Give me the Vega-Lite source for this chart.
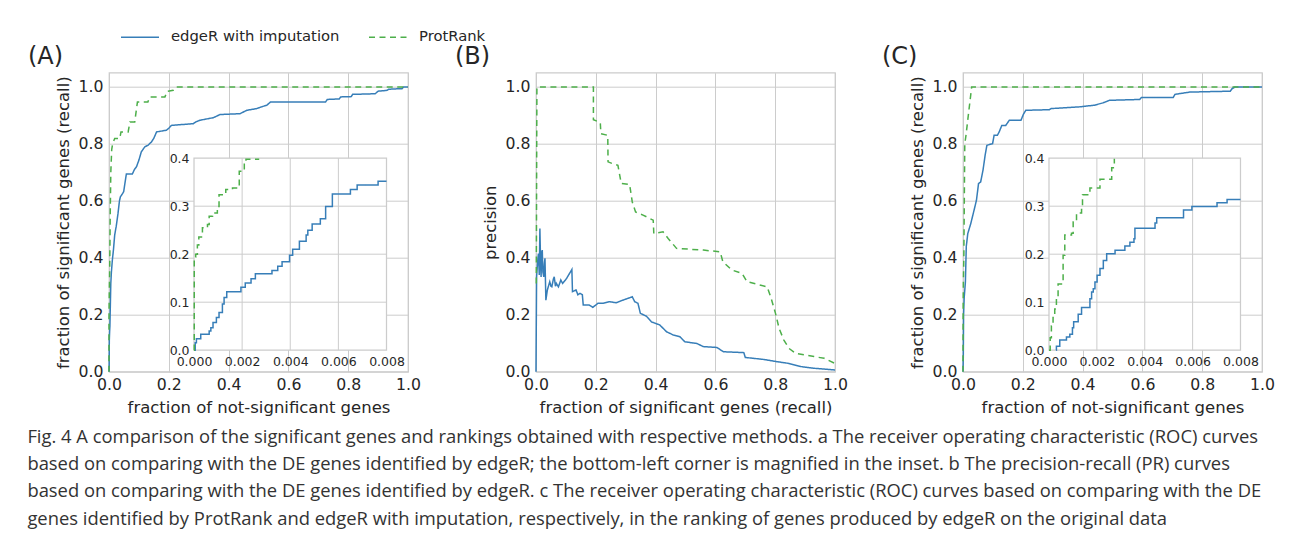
{
  "$schema": "https://vega.github.io/schema/vega-lite/v6.json",
  "background": "white",
  "padding": {"left": 27, "top": 16.7, "right": 5, "bottom": 5},
  "config": {
    "view": {"stroke": "#cccccc", "strokeWidth": 1.25},
    "font": "DejaVu Sans",
    "axis": {"domain": false, "ticks": false, "grid": true, "gridColor": "#cccccc", "gridWidth": 1, "labelFont": "DejaVu Sans", "labelFontSize": 15.7, "labelColor": "#262626", "titleFont": "DejaVu Sans", "titleFontSize": 16.5, "titleFontWeight": "normal", "titleColor": "#262626", "labelPadding": 6, "titlePadding": 7, "labelFlush": false, "labelOverlap": false},
    "legend": {"orient": "none", "legendX": 11, "legendY": -55.6, "direction": "horizontal", "symbolType": "stroke", "symbolSize": 1444, "symbolStrokeWidth": 1.5, "labelFont": "DejaVu Sans", "labelFontSize": 14.8, "labelColor": "#262626", "labelOffset": 11, "labelLimit": 400, "columnPadding": 26, "padding": 0},
    "title": {"font": "DejaVu Sans", "fontSize": 24, "fontWeight": "normal", "color": "#262626", "anchor": "start", "frame": "group", "dx": -81, "offset": 3.5, "baseline": "alphabetic"}
  },
  "title": {
    "text": [
      "Fig. 4 A comparison of the significant genes and rankings obtained with respective methods. a The receiver operating characteristic (ROC) curves",
      "based on comparing with the DE genes identified by edgeR; the bottom-left corner is magnified in the inset. b The precision-recall (PR) curves",
      "based on comparing with the DE genes identified by edgeR. c The receiver operating characteristic (ROC) curves based on comparing with the DE",
      "genes identified by ProtRank and edgeR with imputation, respectively, in the ranking of genes produced by edgeR on the original data"
    ],
    "orient": "bottom", "anchor": "start", "frame": "bounds", "dx": 0, "offset": 11, "baseline": "top", "lineHeight": 27.5,
    "font": "Open Sans", "fontSize": 18.4, "fontWeight": "normal", "color": "#333333"
  },
  "datasets": {
    "A_main": [
      {"series":"edgeR with imputation","x":0,"y":0},{"series":"edgeR with imputation","x":0.0005,"y":0.02},{"series":"edgeR with imputation","x":0.001,"y":0.11},{"series":"edgeR with imputation","x":0.002,"y":0.14},{"series":"edgeR with imputation","x":0.003,"y":0.16},{"series":"edgeR with imputation","x":0.004,"y":0.21},{"series":"edgeR with imputation","x":0.005,"y":0.26},{"series":"edgeR with imputation","x":0.006,"y":0.31},{"series":"edgeR with imputation","x":0.008,"y":0.35},{"series":"edgeR with imputation","x":0.011,"y":0.39},{"series":"edgeR with imputation","x":0.015,"y":0.43},{"series":"edgeR with imputation","x":0.019,"y":0.48},{"series":"edgeR with imputation","x":0.024,"y":0.51},{"series":"edgeR with imputation","x":0.03,"y":0.555},{"series":"edgeR with imputation","x":0.035,"y":0.6},{"series":"edgeR with imputation","x":0.038,"y":0.614},{"series":"edgeR with imputation","x":0.045,"y":0.625},{"series":"edgeR with imputation","x":0.049,"y":0.632},{"series":"edgeR with imputation","x":0.053,"y":0.66},{"series":"edgeR with imputation","x":0.058,"y":0.694},{"series":"edgeR with imputation","x":0.078,"y":0.694},{"series":"edgeR with imputation","x":0.085,"y":0.71},{"series":"edgeR with imputation","x":0.092,"y":0.72},{"series":"edgeR with imputation","x":0.1,"y":0.743},{"series":"edgeR with imputation","x":0.108,"y":0.772},{"series":"edgeR with imputation","x":0.12,"y":0.79},{"series":"edgeR with imputation","x":0.13,"y":0.795},{"series":"edgeR with imputation","x":0.142,"y":0.807},{"series":"edgeR with imputation","x":0.15,"y":0.82},{"series":"edgeR with imputation","x":0.159,"y":0.842},{"series":"edgeR with imputation","x":0.192,"y":0.848},{"series":"edgeR with imputation","x":0.2,"y":0.855},{"series":"edgeR with imputation","x":0.209,"y":0.865},{"series":"edgeR with imputation","x":0.282,"y":0.871},{"series":"edgeR with imputation","x":0.29,"y":0.877},{"series":"edgeR with imputation","x":0.304,"y":0.883},{"series":"edgeR with imputation","x":0.349,"y":0.892},{"series":"edgeR with imputation","x":0.371,"y":0.903},{"series":"edgeR with imputation","x":0.438,"y":0.906},{"series":"edgeR with imputation","x":0.461,"y":0.918},{"series":"edgeR with imputation","x":0.494,"y":0.924},{"series":"edgeR with imputation","x":0.51,"y":0.93},{"series":"edgeR with imputation","x":0.528,"y":0.936},{"series":"edgeR with imputation","x":0.54,"y":0.947},{"series":"edgeR with imputation","x":0.724,"y":0.947},{"series":"edgeR with imputation","x":0.73,"y":0.956},{"series":"edgeR with imputation","x":0.77,"y":0.958},{"series":"edgeR with imputation","x":0.775,"y":0.965},{"series":"edgeR with imputation","x":0.81,"y":0.966},{"series":"edgeR with imputation","x":0.815,"y":0.974},{"series":"edgeR with imputation","x":0.89,"y":0.976},{"series":"edgeR with imputation","x":0.9,"y":0.985},{"series":"edgeR with imputation","x":0.93,"y":0.988},{"series":"edgeR with imputation","x":0.935,"y":0.992},{"series":"edgeR with imputation","x":0.98,"y":0.994},{"series":"edgeR with imputation","x":0.985,"y":1.0},{"series":"edgeR with imputation","x":1.0,"y":1.0},
      {"series":"ProtRank","x":0,"y":0},{"series":"ProtRank","x":0,"y":0.19},{"series":"ProtRank","x":0.0005,"y":0.24},{"series":"ProtRank","x":0.001,"y":0.28},{"series":"ProtRank","x":0.002,"y":0.34},{"series":"ProtRank","x":0.0027,"y":0.4},{"series":"ProtRank","x":0.004,"y":0.55},{"series":"ProtRank","x":0.006,"y":0.7},{"series":"ProtRank","x":0.009,"y":0.78},{"series":"ProtRank","x":0.012,"y":0.8},{"series":"ProtRank","x":0.019,"y":0.819},{"series":"ProtRank","x":0.036,"y":0.819},{"series":"ProtRank","x":0.04,"y":0.842},{"series":"ProtRank","x":0.064,"y":0.842},{"series":"ProtRank","x":0.07,"y":0.877},{"series":"ProtRank","x":0.086,"y":0.877},{"series":"ProtRank","x":0.095,"y":0.947},{"series":"ProtRank","x":0.13,"y":0.947},{"series":"ProtRank","x":0.136,"y":0.965},{"series":"ProtRank","x":0.187,"y":0.965},{"series":"ProtRank","x":0.195,"y":0.985},{"series":"ProtRank","x":0.215,"y":0.988},{"series":"ProtRank","x":0.225,"y":1.0},{"series":"ProtRank","x":1.0,"y":1.0}
    ],
    "A_inset": [
      {"series":"edgeR with imputation","x":0.00004,"y":0},{"series":"edgeR with imputation","x":0.00005,"y":0.0154},{"series":"edgeR with imputation","x":0.0001,"y":0.024},{"series":"edgeR with imputation","x":0.00028,"y":0.033},{"series":"edgeR with imputation","x":0.00063,"y":0.04},{"series":"edgeR with imputation","x":0.0007,"y":0.047},{"series":"edgeR with imputation","x":0.00079,"y":0.0575},{"series":"edgeR with imputation","x":0.00093,"y":0.068},{"series":"edgeR with imputation","x":0.00104,"y":0.0786},{"series":"edgeR with imputation","x":0.00118,"y":0.096},{"series":"edgeR with imputation","x":0.00125,"y":0.11},{"series":"edgeR with imputation","x":0.00136,"y":0.122},{"series":"edgeR with imputation","x":0.00195,"y":0.131},{"series":"edgeR with imputation","x":0.00213,"y":0.14},{"series":"edgeR with imputation","x":0.00237,"y":0.149},{"series":"edgeR with imputation","x":0.00255,"y":0.159},{"series":"edgeR with imputation","x":0.00324,"y":0.166},{"series":"edgeR with imputation","x":0.00348,"y":0.175},{"series":"edgeR with imputation","x":0.00366,"y":0.184},{"series":"edgeR with imputation","x":0.00397,"y":0.198},{"series":"edgeR with imputation","x":0.0041,"y":0.2105},{"series":"edgeR with imputation","x":0.00438,"y":0.227},{"series":"edgeR with imputation","x":0.00466,"y":0.24},{"series":"edgeR with imputation","x":0.00473,"y":0.25},{"series":"edgeR with imputation","x":0.00491,"y":0.263},{"series":"edgeR with imputation","x":0.00525,"y":0.274},{"series":"edgeR with imputation","x":0.00547,"y":0.2996},{"series":"edgeR with imputation","x":0.00575,"y":0.3256},{"series":"edgeR with imputation","x":0.0065,"y":0.335},{"series":"edgeR with imputation","x":0.00678,"y":0.344},{"series":"edgeR with imputation","x":0.00765,"y":0.352},{"series":"edgeR with imputation","x":0.008,"y":0.352},
      {"series":"ProtRank","x":0,"y":0},{"series":"ProtRank","x":0.00001,"y":0.194},{"series":"ProtRank","x":0.00007,"y":0.2},{"series":"ProtRank","x":0.00014,"y":0.219},{"series":"ProtRank","x":0.0002,"y":0.236},{"series":"ProtRank","x":0.00035,"y":0.255},{"series":"ProtRank","x":0.00056,"y":0.262},{"series":"ProtRank","x":0.00063,"y":0.279},{"series":"ProtRank","x":0.00077,"y":0.286},{"series":"ProtRank","x":0.00097,"y":0.2996},{"series":"ProtRank","x":0.00104,"y":0.324},{"series":"ProtRank","x":0.00132,"y":0.335},{"series":"ProtRank","x":0.0016,"y":0.338},{"series":"ProtRank","x":0.00188,"y":0.373},{"series":"ProtRank","x":0.00209,"y":0.391},{"series":"ProtRank","x":0.00216,"y":0.398},{"series":"ProtRank","x":0.00271,"y":0.398}
    ],
    "B": [
      {"series":"edgeR with imputation","x":0,"y":0},{"series":"edgeR with imputation","x":0.002,"y":0.333},{"series":"edgeR with imputation","x":0.005,"y":0.38},{"series":"edgeR with imputation","x":0.008,"y":0.415},{"series":"edgeR with imputation","x":0.011,"y":0.34},{"series":"edgeR with imputation","x":0.013,"y":0.503},{"series":"edgeR with imputation","x":0.015,"y":0.4},{"series":"edgeR with imputation","x":0.017,"y":0.333},{"series":"edgeR with imputation","x":0.019,"y":0.42},{"series":"edgeR with imputation","x":0.021,"y":0.427},{"series":"edgeR with imputation","x":0.023,"y":0.35},{"series":"edgeR with imputation","x":0.026,"y":0.333},{"series":"edgeR with imputation","x":0.028,"y":0.38},{"series":"edgeR with imputation","x":0.03,"y":0.398},{"series":"edgeR with imputation","x":0.033,"y":0.251},{"series":"edgeR with imputation","x":0.038,"y":0.287},{"series":"edgeR with imputation","x":0.046,"y":0.316},{"series":"edgeR with imputation","x":0.05,"y":0.3},{"series":"edgeR with imputation","x":0.053,"y":0.298},{"series":"edgeR with imputation","x":0.058,"y":0.325},{"series":"edgeR with imputation","x":0.061,"y":0.333},{"series":"edgeR with imputation","x":0.065,"y":0.3},{"series":"edgeR with imputation","x":0.068,"y":0.31},{"series":"edgeR with imputation","x":0.075,"y":0.298},{"series":"edgeR with imputation","x":0.083,"y":0.322},{"series":"edgeR with imputation","x":0.089,"y":0.31},{"series":"edgeR with imputation","x":0.102,"y":0.327},{"series":"edgeR with imputation","x":0.12,"y":0.359},{"series":"edgeR with imputation","x":0.122,"y":0.281},{"series":"edgeR with imputation","x":0.134,"y":0.287},{"series":"edgeR with imputation","x":0.14,"y":0.27},{"series":"edgeR with imputation","x":0.147,"y":0.275},{"series":"edgeR with imputation","x":0.155,"y":0.27},{"series":"edgeR with imputation","x":0.158,"y":0.234},{"series":"edgeR with imputation","x":0.178,"y":0.234},{"series":"edgeR with imputation","x":0.19,"y":0.226},{"series":"edgeR with imputation","x":0.207,"y":0.24},{"series":"edgeR with imputation","x":0.223,"y":0.24},{"series":"edgeR with imputation","x":0.246,"y":0.246},{"series":"edgeR with imputation","x":0.268,"y":0.242},{"series":"edgeR with imputation","x":0.29,"y":0.251},{"series":"edgeR with imputation","x":0.322,"y":0.263},{"series":"edgeR with imputation","x":0.33,"y":0.246},{"series":"edgeR with imputation","x":0.341,"y":0.24},{"series":"edgeR with imputation","x":0.349,"y":0.205},{"series":"edgeR with imputation","x":0.369,"y":0.195},{"series":"edgeR with imputation","x":0.386,"y":0.175},{"series":"edgeR with imputation","x":0.414,"y":0.164},{"series":"edgeR with imputation","x":0.437,"y":0.14},{"series":"edgeR with imputation","x":0.459,"y":0.129},{"series":"edgeR with imputation","x":0.481,"y":0.123},{"series":"edgeR with imputation","x":0.498,"y":0.105},{"series":"edgeR with imputation","x":0.538,"y":0.099},{"series":"edgeR with imputation","x":0.56,"y":0.088},{"series":"edgeR with imputation","x":0.605,"y":0.085},{"series":"edgeR with imputation","x":0.627,"y":0.07},{"series":"edgeR with imputation","x":0.695,"y":0.067},{"series":"edgeR with imputation","x":0.7,"y":0.05},{"series":"edgeR with imputation","x":0.762,"y":0.043},{"series":"edgeR with imputation","x":0.807,"y":0.035},{"series":"edgeR with imputation","x":0.846,"y":0.029},{"series":"edgeR with imputation","x":0.886,"y":0.018},{"series":"edgeR with imputation","x":0.93,"y":0.012},{"series":"edgeR with imputation","x":1.0,"y":0.006},
      {"series":"ProtRank","x":0.001,"y":0.31},{"series":"ProtRank","x":0.003,"y":1.0},{"series":"ProtRank","x":0.192,"y":1.0},{"series":"ProtRank","x":0.192,"y":0.885},{"series":"ProtRank","x":0.215,"y":0.875},{"series":"ProtRank","x":0.217,"y":0.836},{"series":"ProtRank","x":0.24,"y":0.83},{"series":"ProtRank","x":0.241,"y":0.737},{"series":"ProtRank","x":0.255,"y":0.731},{"series":"ProtRank","x":0.274,"y":0.725},{"series":"ProtRank","x":0.285,"y":0.661},{"series":"ProtRank","x":0.313,"y":0.658},{"series":"ProtRank","x":0.322,"y":0.596},{"series":"ProtRank","x":0.333,"y":0.561},{"series":"ProtRank","x":0.358,"y":0.55},{"series":"ProtRank","x":0.392,"y":0.532},{"series":"ProtRank","x":0.394,"y":0.485},{"series":"ProtRank","x":0.425,"y":0.491},{"series":"ProtRank","x":0.442,"y":0.468},{"series":"ProtRank","x":0.47,"y":0.433},{"series":"ProtRank","x":0.56,"y":0.427},{"series":"ProtRank","x":0.616,"y":0.421},{"series":"ProtRank","x":0.625,"y":0.386},{"series":"ProtRank","x":0.655,"y":0.357},{"series":"ProtRank","x":0.689,"y":0.345},{"series":"ProtRank","x":0.706,"y":0.316},{"series":"ProtRank","x":0.773,"y":0.298},{"series":"ProtRank","x":0.785,"y":0.263},{"series":"ProtRank","x":0.801,"y":0.205},{"series":"ProtRank","x":0.813,"y":0.152},{"series":"ProtRank","x":0.829,"y":0.111},{"series":"ProtRank","x":0.846,"y":0.082},{"series":"ProtRank","x":0.869,"y":0.064},{"series":"ProtRank","x":0.93,"y":0.053},{"series":"ProtRank","x":0.964,"y":0.047},{"series":"ProtRank","x":1.0,"y":0.029}
    ],
    "C_main": [
      {"series":"edgeR with imputation","x":0,"y":0},{"series":"edgeR with imputation","x":0.001,"y":0.05},{"series":"edgeR with imputation","x":0.002,"y":0.2},{"series":"edgeR with imputation","x":0.004,"y":0.26},{"series":"edgeR with imputation","x":0.008,"y":0.314},{"series":"edgeR with imputation","x":0.011,"y":0.44},{"series":"edgeR with imputation","x":0.016,"y":0.485},{"series":"edgeR with imputation","x":0.026,"y":0.52},{"series":"edgeR with imputation","x":0.037,"y":0.567},{"series":"edgeR with imputation","x":0.045,"y":0.602},{"series":"edgeR with imputation","x":0.052,"y":0.661},{"series":"edgeR with imputation","x":0.059,"y":0.666},{"series":"edgeR with imputation","x":0.067,"y":0.708},{"series":"edgeR with imputation","x":0.074,"y":0.76},{"series":"edgeR with imputation","x":0.08,"y":0.795},{"series":"edgeR with imputation","x":0.099,"y":0.801},{"series":"edgeR with imputation","x":0.104,"y":0.83},{"series":"edgeR with imputation","x":0.115,"y":0.83},{"series":"edgeR with imputation","x":0.121,"y":0.842},{"series":"edgeR with imputation","x":0.13,"y":0.865},{"series":"edgeR with imputation","x":0.143,"y":0.865},{"series":"edgeR with imputation","x":0.155,"y":0.883},{"series":"edgeR with imputation","x":0.194,"y":0.883},{"series":"edgeR with imputation","x":0.202,"y":0.904},{"series":"edgeR with imputation","x":0.21,"y":0.918},{"series":"edgeR with imputation","x":0.289,"y":0.92},{"series":"edgeR with imputation","x":0.295,"y":0.924},{"series":"edgeR with imputation","x":0.39,"y":0.93},{"series":"edgeR with imputation","x":0.44,"y":0.936},{"series":"edgeR with imputation","x":0.468,"y":0.944},{"series":"edgeR with imputation","x":0.49,"y":0.953},{"series":"edgeR with imputation","x":0.591,"y":0.956},{"series":"edgeR with imputation","x":0.597,"y":0.963},{"series":"edgeR with imputation","x":0.703,"y":0.963},{"series":"edgeR with imputation","x":0.709,"y":0.974},{"series":"edgeR with imputation","x":0.759,"y":0.982},{"series":"edgeR with imputation","x":0.894,"y":0.985},{"series":"edgeR with imputation","x":0.9,"y":0.994},{"series":"edgeR with imputation","x":0.91,"y":1.0},{"series":"edgeR with imputation","x":1.0,"y":1.0},
      {"series":"ProtRank","x":0,"y":0},{"series":"ProtRank","x":0.0003,"y":0.11},{"series":"ProtRank","x":0.0007,"y":0.24},{"series":"ProtRank","x":0.0014,"y":0.32},{"series":"ProtRank","x":0.0028,"y":0.4},{"series":"ProtRank","x":0.004,"y":0.55},{"series":"ProtRank","x":0.006,"y":0.8},{"series":"ProtRank","x":0.01,"y":0.83},{"series":"ProtRank","x":0.02,"y":0.92},{"series":"ProtRank","x":0.029,"y":1.0},{"series":"ProtRank","x":1.0,"y":1.0}
    ],
    "C_inset": [
      {"series":"edgeR with imputation","x":0.0003,"y":0},{"series":"edgeR with imputation","x":0.00031,"y":0.0084},{"series":"edgeR with imputation","x":0.00045,"y":0.021},{"series":"edgeR with imputation","x":0.00073,"y":0.0274},{"series":"edgeR with imputation","x":0.00087,"y":0.033},{"series":"edgeR with imputation","x":0.00098,"y":0.047},{"series":"edgeR with imputation","x":0.00103,"y":0.059},{"series":"edgeR with imputation","x":0.00122,"y":0.075},{"series":"edgeR with imputation","x":0.00136,"y":0.089},{"series":"edgeR with imputation","x":0.00171,"y":0.107},{"series":"edgeR with imputation","x":0.00178,"y":0.121},{"series":"edgeR with imputation","x":0.00185,"y":0.128},{"series":"edgeR with imputation","x":0.00192,"y":0.142},{"series":"edgeR with imputation","x":0.00201,"y":0.156},{"series":"edgeR with imputation","x":0.00213,"y":0.17},{"series":"edgeR with imputation","x":0.00227,"y":0.187},{"series":"edgeR with imputation","x":0.00241,"y":0.201},{"series":"edgeR with imputation","x":0.00276,"y":0.208},{"series":"edgeR with imputation","x":0.00317,"y":0.217},{"series":"edgeR with imputation","x":0.00338,"y":0.225},{"series":"edgeR with imputation","x":0.00355,"y":0.232},{"series":"edgeR with imputation","x":0.00359,"y":0.254},{"series":"edgeR with imputation","x":0.00443,"y":0.265},{"series":"edgeR with imputation","x":0.0045,"y":0.276},{"series":"edgeR with imputation","x":0.00562,"y":0.292},{"series":"edgeR with imputation","x":0.00597,"y":0.2996},{"series":"edgeR with imputation","x":0.00702,"y":0.307},{"series":"edgeR with imputation","x":0.00744,"y":0.314},{"series":"edgeR with imputation","x":0.008,"y":0.314},
      {"series":"ProtRank","x":0,"y":0},{"series":"ProtRank","x":0.00005,"y":0.026},{"series":"ProtRank","x":0.0001,"y":0.0505},{"series":"ProtRank","x":0.00017,"y":0.068},{"series":"ProtRank","x":0.00024,"y":0.0856},{"series":"ProtRank","x":0.00031,"y":0.11},{"series":"ProtRank","x":0.00038,"y":0.138},{"series":"ProtRank","x":0.00052,"y":0.142},{"series":"ProtRank","x":0.00059,"y":0.198},{"series":"ProtRank","x":0.00066,"y":0.24},{"series":"ProtRank","x":0.00094,"y":0.2435},{"series":"ProtRank","x":0.00101,"y":0.267},{"series":"ProtRank","x":0.00115,"y":0.286},{"series":"ProtRank","x":0.00136,"y":0.293},{"series":"ProtRank","x":0.0014,"y":0.324},{"series":"ProtRank","x":0.00171,"y":0.338},{"series":"ProtRank","x":0.00213,"y":0.356},{"series":"ProtRank","x":0.00262,"y":0.38},{"series":"ProtRank","x":0.00273,"y":0.399}
    ],
    "inset_gx": [{"v":0.002},{"v":0.004},{"v":0.006}],
    "inset_gy": [{"v":0.1},{"v":0.2},{"v":0.3}]
  },
  "bounds": "flush",
  "spacing": 128,
  "hconcat": [
    {
      "width": 299, "height": 299,
      "title": {"text": "(A)"},
      "resolve": {"scale": {"x": "independent", "y": "independent"}, "axis": {"x": "independent", "y": "independent"}},
      "layer": [
        {
          "data": {"name": "A_main"},
          "mark": {"type": "line", "strokeWidth": 1.5},
          "encoding": {
            "x": {"field": "x", "type": "quantitative", "scale": {"domain": [0, 1], "nice": false}, "axis": {"values": [0, 0.2, 0.4, 0.6, 0.8, 1], "format": ".1f", "title": "fraction of not-significant genes"}},
            "y": {"field": "y", "type": "quantitative", "scale": {"domain": [0, 1.05], "nice": false}, "axis": {"values": [0, 0.2, 0.4, 0.6, 0.8, 1], "format": ".1f", "title": "fraction of significant genes (recall)"}},
            "color": {"field": "series", "type": "nominal", "scale": {"domain": ["edgeR with imputation", "ProtRank"], "range": ["#377eb8", "#4daf4a"]}, "legend": {"title": null}},
            "strokeDash": {"field": "series", "type": "nominal", "scale": {"domain": ["edgeR with imputation", "ProtRank"], "range": [[1, 0], [6, 4.5]]}, "legend": {"title": null}},
            "order": {"value": null}
          }
        },
        {
          "layer": [
            {
              "data": {"values": [{"box": "inset"}]},
              "mark": {"type": "rect", "fill": "white", "stroke": "#cccccc", "strokeWidth": 1.25},
              "encoding": {
                "x": {"datum": 0, "type": "quantitative", "title": null, "scale": {"domain": [0, 0.008], "range": [85, 277.5], "nice": false, "zero": false}, "axis": {"orient": "bottom", "offset": -21.5, "values": [0, 0.002, 0.004, 0.006, 0.008], "format": ".3f", "grid": false, "labelFontSize": 12.5, "labelPadding": 5, "title": null}},
                "x2": {"datum": 0.008},
                "y": {"datum": 0, "type": "quantitative", "title": null, "scale": {"domain": [0, 0.4], "range": [277.5, 85.5], "nice": false, "zero": false}, "axis": {"orient": "left", "offset": -85, "values": [0, 0.1, 0.2, 0.3, 0.4], "format": ".1f", "grid": false, "labelFontSize": 12.5, "labelPadding": 5, "title": null}},
                "y2": {"datum": 0.4}
              }
            },
            {
              "data": {"name": "inset_gx"},
              "mark": {"type": "rule", "color": "#cccccc", "strokeWidth": 1},
              "encoding": {"x": {"field": "v", "type": "quantitative", "title": null}, "y": {"datum": 0, "type": "quantitative", "title": null}, "y2": {"datum": 0.4}}
            },
            {
              "data": {"name": "inset_gy"},
              "mark": {"type": "rule", "color": "#cccccc", "strokeWidth": 1},
              "encoding": {"y": {"field": "v", "type": "quantitative", "title": null}, "x": {"datum": 0, "type": "quantitative", "title": null}, "x2": {"datum": 0.008}}
            },
            {
              "data": {"name": "A_inset"},
              "mark": {"type": "line", "strokeWidth": 1.5, "interpolate": "step-after"},
              "encoding": {
                "x": {"field": "x", "type": "quantitative", "title": null},
                "y": {"field": "y", "type": "quantitative", "title": null},
                "color": {"field": "series", "type": "nominal", "legend": {"title": null}},
                "strokeDash": {"field": "series", "type": "nominal", "legend": {"title": null}},
                "order": {"value": null}
              }
            }
          ]
        }
      ]
    },
    {
      "width": 299, "height": 299,
      "title": {"text": "(B)"},
      "data": {"name": "B"},
      "mark": {"type": "line", "strokeWidth": 1.5},
      "encoding": {
        "x": {"field": "x", "type": "quantitative", "scale": {"domain": [0, 1], "nice": false}, "axis": {"values": [0, 0.2, 0.4, 0.6, 0.8, 1], "format": ".1f", "title": "fraction of significant genes (recall)"}},
        "y": {"field": "y", "type": "quantitative", "scale": {"domain": [0, 1.05], "nice": false}, "axis": {"values": [0, 0.2, 0.4, 0.6, 0.8, 1], "format": ".1f", "title": "precision"}},
        "color": {"field": "series", "type": "nominal", "legend": {"title": null}},
        "strokeDash": {"field": "series", "type": "nominal", "legend": {"title": null}},
        "order": {"value": null}
      }
    },
    {
      "width": 299, "height": 299,
      "title": {"text": "(C)"},
      "resolve": {"scale": {"x": "independent", "y": "independent"}, "axis": {"x": "independent", "y": "independent"}},
      "layer": [
        {
          "data": {"name": "C_main"},
          "mark": {"type": "line", "strokeWidth": 1.5},
          "encoding": {
            "x": {"field": "x", "type": "quantitative", "scale": {"domain": [0, 1], "nice": false}, "axis": {"values": [0, 0.2, 0.4, 0.6, 0.8, 1], "format": ".1f", "title": "fraction of not-significant genes"}},
            "y": {"field": "y", "type": "quantitative", "scale": {"domain": [0, 1.05], "nice": false}, "axis": {"values": [0, 0.2, 0.4, 0.6, 0.8, 1], "format": ".1f", "title": "fraction of significant genes (recall)"}},
            "color": {"field": "series", "type": "nominal", "legend": {"title": null}},
            "strokeDash": {"field": "series", "type": "nominal", "legend": {"title": null}},
            "order": {"value": null}
          }
        },
        {
          "layer": [
            {
              "data": {"values": [{"box": "inset"}]},
              "mark": {"type": "rect", "fill": "white", "stroke": "#cccccc", "strokeWidth": 1.25},
              "encoding": {
                "x": {"datum": 0, "type": "quantitative", "title": null, "scale": {"domain": [0, 0.008], "range": [86, 277.5], "nice": false, "zero": false}, "axis": {"orient": "bottom", "offset": -21.5, "values": [0, 0.002, 0.004, 0.006, 0.008], "format": ".3f", "grid": false, "labelFontSize": 12.5, "labelPadding": 5, "title": null}},
                "x2": {"datum": 0.008},
                "y": {"datum": 0, "type": "quantitative", "title": null, "scale": {"domain": [0, 0.4], "range": [277.5, 85.5], "nice": false, "zero": false}, "axis": {"orient": "left", "offset": -86, "values": [0, 0.1, 0.2, 0.3, 0.4], "format": ".1f", "grid": false, "labelFontSize": 12.5, "labelPadding": 5, "title": null}},
                "y2": {"datum": 0.4}
              }
            },
            {
              "data": {"name": "inset_gx"},
              "mark": {"type": "rule", "color": "#cccccc", "strokeWidth": 1},
              "encoding": {"x": {"field": "v", "type": "quantitative", "title": null}, "y": {"datum": 0, "type": "quantitative", "title": null}, "y2": {"datum": 0.4}}
            },
            {
              "data": {"name": "inset_gy"},
              "mark": {"type": "rule", "color": "#cccccc", "strokeWidth": 1},
              "encoding": {"y": {"field": "v", "type": "quantitative", "title": null}, "x": {"datum": 0, "type": "quantitative", "title": null}, "x2": {"datum": 0.008}}
            },
            {
              "data": {"name": "C_inset"},
              "mark": {"type": "line", "strokeWidth": 1.5, "interpolate": "step-after"},
              "encoding": {
                "x": {"field": "x", "type": "quantitative", "title": null},
                "y": {"field": "y", "type": "quantitative", "title": null},
                "color": {"field": "series", "type": "nominal", "legend": {"title": null}},
                "strokeDash": {"field": "series", "type": "nominal", "legend": {"title": null}},
                "order": {"value": null}
              }
            }
          ]
        }
      ]
    }
  ]
}
